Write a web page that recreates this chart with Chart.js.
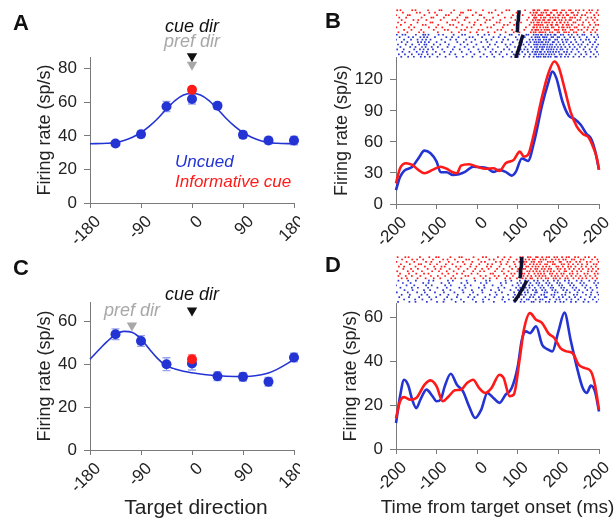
<!DOCTYPE html>
<html>
<head>
<meta charset="utf-8">
<script src="https://cdn.jsdelivr.net/npm/chart.js@4.4.1/dist/chart.umd.min.js"></script>
<style>
  body { margin: 0; background: #fff; }
  #fig { position: relative; width: 616px; height: 523px; overflow: hidden; font-family: 'Liberation Sans', Arial, sans-serif; }
  #fig canvas { position: absolute; }
  .tag { position: absolute; font-weight: bold; font-size: 22px; line-height: 1; color: #111; }
</style>
</head>
<body>
<div id="fig">
  <canvas id="chartA" width="300" height="250" style="left:0;top:0"></canvas>
  <canvas id="chartB" width="316" height="250" style="left:300px;top:0"></canvas>
  <canvas id="chartC" width="300" height="273" style="left:0;top:250px"></canvas>
  <canvas id="chartD" width="316" height="273" style="left:300px;top:250px"></canvas>
  <canvas id="rasterB" width="203" height="49" style="left:396px;top:9px"></canvas>
  <canvas id="rasterD" width="203" height="47" style="left:396px;top:256px"></canvas>
  <div class="tag" style="left:13px;top:12px">A</div>
  <div class="tag" style="left:325px;top:10px">B</div>
  <div class="tag" style="left:13px;top:257px">C</div>
  <div class="tag" style="left:325px;top:254px">D</div>
</div>
<script>
// direction tuning (A, C)
const directions = [-135, -90, -45, 0, 45, 90, 135, 180];
const rateA = [35.5, 41, 57.5, 62, 58, 40.6, 37.2, 37.2];
const errA = [1.5, 2, 3, 3, 2, 2, 2, 2.5];
const cuedRateA = 67.5;
const cuedErrA = 1.5;
const fitDirA = [-180, -150, -135, -120, -105, -90, -75, -60, -45, -30, -15, 0, 15, 30, 45, 60, 75, 90, 105, 120, 135, 150, 180];
const fitA = [35.3, 35.6, 36, 37.2, 39.2, 42, 45.8, 50.5, 56, 61, 64.3, 65.4, 64.3, 61, 56, 50.5, 45.8, 42, 39.2, 37.2, 36, 35.6, 35.3];

const rateC = [54, 50.8, 40, 40.3, 34.4, 34.1, 31.8, 43.1];
const errC = [2.5, 2.5, 3, 3, 2, 2, 2, 2];
const cuedRateC = 42.3;
const cuedErrC = 2;
const fitDirC = [-180, -165, -150, -135, -120, -105, -90, -75, -60, -45, -30, -15, 0, 15, 30, 60, 90, 120, 135, 150, 165, 180];
const fitC = [42.3, 46.5, 50.5, 53.8, 55.3, 54.8, 51.8, 47, 42.5, 39.2, 37.8, 36.7, 36, 35.4, 35, 34.4, 34.2, 35, 35.9, 37.6, 39.8, 42.3];

const dirTicks = [-180, -90, 0, 90, 180];
const dirTickLabels = ['-180', '-90', '0', '90', '180'];

// firing rate over time (B, D)
const timeBBlue = [-200, -190, -180, -160, -145, -130, -115, -100, -90, -75, -60, -45, -30, -10, 10, 25, 40, 55, 70, 85, 95, 110, 125, 140, 160, 175, 185, 195, 210, 225, 240, 255, 270, 280, 290, 300];
const rateBBlue = [13.5, 26, 32, 36, 44, 51.6, 49, 41, 30.6, 30.6, 28, 28.7, 31, 36, 35.5, 34.5, 31, 33, 31, 27.4, 31, 44, 41.6, 59.7, 95.8, 117, 128, 121.6, 99, 85.5, 82, 76.5, 67.4, 63.5, 52, 33];
const timeBRed = [-200, -190, -175, -160, -145, -130, -110, -90, -75, -60, -50, -40, -20, 0, 20, 40, 55, 70, 90, 105, 115, 125, 140, 160, 175, 190, 200, 215, 230, 245, 260, 275, 285, 295, 300];
const rateBRed = [20, 34.5, 39.4, 37.7, 33, 29.7, 33, 36, 34, 30.6, 29.7, 37, 38.4, 36, 34, 34.5, 32, 39.4, 42.6, 50.6, 45.8, 47.4, 68.4, 104, 126, 137.7, 133, 112, 89, 75, 67.7, 64, 55.5, 44, 33];

const timeDBlue = [-200, -190, -180, -170, -160, -150, -140, -125, -110, -100, -90, -80, -65, -50, -35, -20, -5, 10, 25, 40, 55, 70, 85, 100, 110, 120, 130, 145, 160, 175, 185, 200, 215, 230, 245, 260, 270, 280, 290, 300];
const rateDBlue = [11.8, 24, 31.5, 29, 22.4, 18.6, 22.4, 27, 24, 21.7, 22.4, 28.5, 34.2, 29.2, 26.2, 19.4, 14.1, 17.9, 25.5, 23.2, 21, 24.7, 27.7, 37.6, 49.7, 53.5, 52.7, 55.8, 47.4, 45.2, 44.4, 53.5, 62, 49.7, 37.6, 27.7, 25.5, 28.8, 26.2, 17.1];
const timeDRed = [-200, -190, -180, -165, -150, -130, -115, -100, -85, -70, -55, -40, -25, -10, 5, 20, 35, 55, 65, 80, 90, 105, 115, 130, 145, 160, 175, 190, 205, 220, 235, 250, 265, 280, 290, 300];
const rateDRed = [14, 21.7, 23.6, 22.4, 23.2, 29.2, 31.2, 28.5, 21.7, 24, 26.7, 27, 30, 31.5, 27.7, 25.5, 27.7, 33.8, 32.3, 24, 24.7, 41.4, 54.2, 61.8, 58.8, 57.3, 52.7, 50.5, 45.9, 44.4, 43.6, 38.3, 36.8, 35.3, 29.2, 17.9];

const timeTicks = [-200, -100, 0, 100, 200, 300];
const timeTickLabels = ['-200', '-100', '0', '100', '200', '-200'];

// spike rasters: one array of spike times per trial, plus the event time per trial
const rasterBRed = [
  [-197, -189, -160, -152, -121, -93, -88, -57, -22, -16, 14, 45, 72, 79, 118, 138, 141, 149, 153, 166, 169, 174, 187, 191, 195, 209, 214, 226, 230, 243, 251, 262, 276, 283, 297],
  [-183, -149, -141, -118, -104, -64, -40, -35, -3, 29, 36, 61, 97, 131, 139, 145, 147, 158, 163, 170, 181, 183, 197, 205, 207, 219, 232, 236, 248, 270, 279, 294],
  [-200, -171, -166, -130, -99, -77, -70, -43, -11, 6, 10, 52, 88, 112, 136, 143, 151, 155, 160, 172, 176, 178, 189, 200, 203, 212, 221, 224, 239, 246, 258, 266, 288, 299],
  [-192, -175, -137, -113, -108, -82, -49, -28, -24, 17, 39, 68, 84, 101, 127, 140, 142, 146, 157, 164, 168, 180, 186, 193, 199, 210, 216, 229, 234, 241, 255, 272, 281, 290],
  [-186, -157, -145, -125, -90, -61, -54, -31, 1, 23, 31, 57, 94, 123, 137, 144, 150, 154, 162, 165, 175, 179, 190, 192, 202, 208, 218, 227, 231, 247, 253, 268, 285, 296],
  [-195, -178, -147, -115, -110, -74, -46, -19, -6, 20, 48, 55, 81, 108, 133, 139, 148, 152, 159, 167, 171, 177, 185, 196, 204, 206, 215, 223, 237, 242, 261, 275, 289],
  [-188, -163, -134, -127, -96, -67, -59, -37, -8, 9, 41, 66, 75, 91, 129, 141, 146, 151, 156, 161, 173, 182, 184, 194, 198, 211, 220, 225, 233, 250, 259, 278, 292, 298],
  [-199, -168, -155, -119, -101, -86, -51, -25, -14, 25, 34, 63, 99, 120, 138, 140, 147, 155, 163, 169, 174, 184, 188, 201, 209, 213, 222, 228, 240, 245, 264, 273, 287],
  [-180, -162, -138, -107, -80, -72, -39, -30, 3, 13, 50, 59, 86, 116, 135, 143, 145, 150, 158, 166, 172, 177, 191, 195, 200, 211, 217, 230, 235, 249, 257, 271, 284, 295],
  [-194, -172, -143, -132, -97, -63, -45, -17, -1, 27, 43, 70, 90, 104, 132, 139, 144, 153, 157, 162, 168, 179, 185, 198, 202, 214, 219, 226, 238, 244, 263, 280, 291]
];
const rasterBBlue = [
  [-198, -184, -177, -151, -133, -128, -120, -95, -84, -58, -37, -30, 2, 18, 29, 57, 80, 85, 103, 121, 126, 139, 145, 150, 157, 159, 168, 174, 181, 190, 193, 206, 212, 225, 233, 247, 259, 264, 281, 296],
  [-191, -169, -158, -140, -131, -123, -104, -76, -62, -46, -19, -11, 12, 40, 53, 68, 95, 112, 117, 134, 143, 148, 153, 162, 166, 171, 183, 187, 198, 202, 215, 229, 238, 252, 270, 288, 299],
  [-200, -180, -163, -147, -135, -126, -115, -88, -66, -52, -27, -5, 22, 35, 64, 76, 99, 108, 129, 137, 144, 151, 155, 164, 170, 177, 179, 192, 197, 209, 218, 223, 241, 255, 268, 275, 293],
  [-186, -172, -146, -138, -129, -119, -100, -79, -49, -33, -14, 10, 25, 48, 61, 88, 110, 122, 131, 141, 146, 152, 158, 161, 169, 175, 186, 189, 200, 211, 220, 231, 244, 261, 278, 290],
  [-195, -176, -160, -143, -130, -125, -107, -91, -70, -41, -24, -2, 31, 44, 70, 82, 105, 114, 127, 140, 145, 149, 156, 163, 167, 173, 180, 185, 195, 204, 213, 226, 236, 249, 257, 272, 285, 298],
  [-189, -165, -152, -136, -127, -112, -97, -73, -56, -31, -9, 15, 27, 51, 74, 93, 101, 119, 133, 142, 147, 154, 160, 165, 172, 178, 184, 191, 199, 207, 217, 228, 240, 253, 266, 283, 294],
  [-197, -181, -155, -141, -132, -121, -109, -86, -60, -43, -21, 3, 20, 38, 66, 79, 107, 116, 124, 138, 146, 150, 159, 162, 171, 176, 182, 188, 196, 205, 210, 222, 235, 246, 262, 277, 291],
  [-184, -167, -149, -134, -124, -102, -81, -65, -38, -16, 6, 33, 46, 59, 86, 97, 111, 125, 136, 143, 148, 155, 157, 166, 174, 180, 187, 194, 201, 214, 221, 232, 250, 267, 280, 295],
  [-193, -178, -161, -144, -137, -122, -110, -92, -68, -54, -26, -7, 16, 37, 55, 73, 90, 104, 118, 130, 141, 145, 152, 158, 163, 170, 177, 183, 190, 203, 208, 219, 227, 242, 256, 269, 287, 300],
  [-187, -170, -156, -139, -129, -117, -98, -78, -51, -35, -12, 8, 24, 42, 63, 84, 100, 115, 128, 139, 147, 151, 156, 164, 168, 175, 181, 192, 196, 206, 216, 224, 237, 251, 263, 279, 292]
];
const rasterDRed = [
  [-196, -177, -169, -141, -118, -101, -95, -66, -44, -38, -9, 14, 22, 51, 67, 82, 106, 112, 125, 131, 145, 149, 160, 171, 177, 190, 197, 209, 220, 226, 241, 249, 266, 275, 290],
  [-185, -160, -148, -133, -109, -84, -73, -55, -27, -20, 3, 30, 41, 62, 78, 97, 108, 119, 128, 137, 142, 156, 163, 169, 184, 193, 201, 212, 218, 233, 239, 255, 262, 283, 296],
  [-199, -174, -155, -126, -113, -92, -70, -48, -35, -12, 10, 19, 46, 57, 75, 90, 104, 115, 121, 134, 140, 152, 158, 174, 180, 187, 203, 206, 222, 229, 244, 253, 270, 279, 299],
  [-188, -166, -144, -138, -116, -99, -77, -61, -31, -15, 5, 26, 37, 59, 72, 93, 110, 117, 130, 139, 147, 155, 167, 172, 186, 191, 208, 214, 225, 236, 248, 258, 271, 287, 294],
  [-193, -180, -152, -129, -106, -88, -80, -52, -41, -17, -2, 24, 34, 55, 80, 95, 107, 121, 126, 136, 144, 151, 162, 170, 178, 195, 200, 211, 224, 231, 242, 257, 268, 281, 292],
  [-182, -163, -146, -122, -103, -90, -68, -46, -24, -5, 12, 28, 49, 65, 86, 101, 113, 118, 132, 143, 148, 159, 166, 176, 182, 198, 205, 216, 227, 238, 251, 260, 274, 285, 298],
  [-197, -171, -158, -136, -111, -94, -75, -58, -33, -10, 7, 17, 44, 61, 77, 99, 109, 123, 129, 138, 146, 154, 164, 173, 181, 189, 202, 215, 219, 234, 246, 256, 273, 282, 293],
  [-190, -168, -150, -131, -120, -86, -71, -50, -37, -14, 1, 33, 39, 66, 84, 92, 111, 116, 127, 141, 150, 157, 165, 179, 185, 196, 207, 213, 228, 235, 247, 264, 272, 289, 297],
  [-194, -176, -161, -140, -114, -97, -79, -59, -29, -22, 8, 21, 43, 53, 73, 88, 105, 114, 124, 133, 144, 153, 161, 168, 183, 192, 199, 210, 221, 232, 243, 254, 267, 278, 291],
  [-186, -173, -147, -127, -107, -91, -64, -54, -39, -7, 15, 31, 48, 69, 81, 98, 112, 120, 131, 135, 149, 158, 169, 175, 188, 194, 204, 217, 223, 237, 250, 259, 269, 284, 295]
];
const rasterDBlue = [
  [-194, -170, -151, -119, -108, -72, -60, -26, -5, 22, 31, 70, 84, 105, 118, 126, 140, 149, 163, 174, 189, 199, 216, 226, 245, 257, 276, 291],
  [-183, -164, -133, -120, -88, -69, -39, -24, 9, 23, 58, 71, 99, 108, 121, 131, 146, 153, 170, 178, 197, 204, 225, 233, 254, 263, 288, 298],
  [-200, -174, -155, -126, -112, -79, -65, -31, -16, 17, 38, 60, 87, 102, 113, 128, 136, 151, 160, 175, 184, 202, 209, 229, 238, 259, 269, 293],
  [-189, -161, -146, -121, -98, -75, -44, -29, 4, 18, 52, 67, 96, 106, 120, 129, 142, 156, 164, 181, 187, 207, 214, 235, 244, 266, 279, 295],
  [-179, -159, -131, -116, -84, -66, -36, -13, 12, 34, 54, 82, 101, 114, 124, 137, 145, 160, 168, 185, 193, 212, 221, 240, 251, 271, 284],
  [-198, -171, -148, -129, -104, -82, -56, -34, -10, 13, 45, 61, 91, 104, 117, 125, 143, 147, 166, 172, 191, 198, 218, 228, 247, 260, 281, 296],
  [-186, -166, -137, -123, -91, -71, -48, -18, 1, 31, 48, 76, 93, 110, 119, 133, 141, 158, 165, 183, 190, 209, 217, 238, 246, 268, 280, 299],
  [-192, -168, -143, -118, -101, -74, -50, -22, -7, 20, 43, 64, 89, 103, 115, 130, 138, 152, 167, 171, 188, 201, 211, 227, 241, 255, 277, 290],
  [-180, -153, -135, -113, -81, -63, -40, -11, 14, 29, 62, 78, 97, 109, 122, 127, 144, 155, 161, 179, 195, 203, 220, 232, 249, 265, 285, 300],
  [-195, -167, -152, -124, -99, -83, -53, -33, -3, 15, 41, 68, 92, 107, 116, 134, 139, 154, 169, 177, 192, 205, 213, 231, 243, 262, 274, 294]
];
const eventBRed = [103, 103, 102, 102, 101, 100, 100, 99, 99, 98];
const eventBBlue = [113, 111, 109, 107, 106, 104, 102, 100, 98, 96];
const eventDRed = [110, 110, 109, 109, 108, 107, 107, 106, 106, 105];
const eventDBlue = [122, 119, 116, 113, 109, 106, 103, 99, 95, 91];

const FONT = "'Liberation Sans', Arial, sans-serif";
const BLUE = '#2333d4';
const RED = '#ff1a1a';
const AXIS = '#7a7a7a';
const INK = '#222';

Chart.defaults.font.family = FONT;
Chart.defaults.animation = false;

const pts = (xs, ys) => xs.map((x, i) => ({ x, y: ys[i] }));

// vertical error bars with caps, drawn under the markers
const errorBars = {
  id: 'errorBars',
  beforeDatasetsDraw(chart) {
    const { ctx, scales: { x, y } } = chart;
    chart.data.datasets.forEach(ds => {
      if (!ds.errors) return;
      ctx.save();
      ctx.strokeStyle = ds.errorColor;
      ctx.lineWidth = 1.3;
      ds.data.forEach((p, j) => {
        const px = x.getPixelForValue(p.x);
        const top = y.getPixelForValue(p.y + ds.errors[j]);
        const bot = y.getPixelForValue(p.y - ds.errors[j]);
        ctx.beginPath();
        ctx.moveTo(px, top); ctx.lineTo(px, bot);
        ctx.moveTo(px - 4, top); ctx.lineTo(px + 4, top);
        ctx.moveTo(px - 4, bot); ctx.lineTo(px + 4, bot);
        ctx.stroke();
      });
      ctx.restore();
    });
  }
};

// x tick labels turned 45 degrees
function slantTicks(values, labels) {
  return {
    id: 'slantTicks',
    afterDraw(chart) {
      const { ctx } = chart;
      const sx = chart.scales.x;
      ctx.save();
      ctx.font = '17px ' + FONT;
      ctx.fillStyle = INK;
      ctx.textAlign = 'right';
      ctx.textBaseline = 'middle';
      values.forEach((v, i) => {
        ctx.save();
        ctx.translate(sx.getPixelForValue(v) + 8, sx.top + 16);
        ctx.rotate(-Math.PI / 4);
        ctx.fillText(labels[i], 0, 0);
        ctx.restore();
      });
      ctx.restore();
    }
  };
}

// x axis title under the slanted labels (not squeezed to the plot width)
function bottomTitle(text, size, shift) {
  return {
    id: 'bottomTitle',
    afterDraw(chart) {
      if (!text) return;
      const { ctx, chartArea } = chart;
      ctx.save();
      ctx.font = size + 'px ' + FONT;
      ctx.fillStyle = INK;
      ctx.textAlign = 'center';
      ctx.textBaseline = 'middle';
      ctx.fillText(text, (chartArea.left + chartArea.right) / 2 + shift, chart.height - 15);
      ctx.restore();
    }
  };
}

// free text placed in data coordinates
function notes(items) {
  return {
    id: 'notes',
    afterDraw(chart) {
      const { ctx, scales: { x, y } } = chart;
      ctx.save();
      items.forEach(n => {
        ctx.font = n.font;
        ctx.fillStyle = n.color;
        ctx.textAlign = n.align || 'center';
        ctx.textBaseline = 'alphabetic';
        ctx.fillText(n.text, x.getPixelForValue(n.x), y.getPixelForValue(n.y));
      });
      ctx.restore();
    }
  };
}

function yAxis(max, step, width, titlePad) {
  return {
    min: 0, max,
    afterFit(scale) { scale.width = width; },
    border: { display: true, color: AXIS, width: 1 },
    grid: { drawOnChartArea: false, drawTicks: true, tickLength: 6, color: AXIS },
    ticks: { stepSize: step, includeBounds: false, padding: 7, color: INK, font: { size: 17 } },
    title: { display: true, text: 'Firing rate (sp/s)', color: INK, font: { size: 18 }, padding: { top: titlePad, bottom: 0 } }
  };
}

function xAxis(min, max, step, height) {
  return {
    type: 'linear', min, max,
    afterFit(scale) { scale.height = height; },
    border: { display: true, color: AXIS, width: 1 },
    grid: { drawOnChartArea: false, drawTicks: true, tickLength: 5, color: AXIS },
    ticks: { stepSize: step, display: false }
  };
}

function baseOptions(scales, padTop, padRight) {
  return {
    responsive: false,
    layout: { padding: { top: padTop, right: padRight, left: 0, bottom: 0 }, autoPadding: false },
    plugins: { legend: { display: false }, tooltip: { enabled: false } },
    scales
  };
}

function marker(x, y, color) {
  return {
    type: 'scatter', data: [{ x, y }], order: 0, clip: false,
    pointStyle: 'triangle', rotation: 180, pointRadius: 6,
    backgroundColor: color, borderColor: color, borderWidth: 0
  };
}

function tuningChart(id, o) {
  new Chart(document.getElementById(id), {
    type: 'line',
    data: {
      datasets: [
        {
          type: 'scatter', data: [{ x: 0, y: o.cued }], errors: [o.cuedErr], errorColor: 'rgba(255,90,90,0.7)',
          order: 0, pointRadius: 5, backgroundColor: RED, borderWidth: 0
        },
        {
          type: 'scatter', data: pts(directions, o.rates), errors: o.errs, errorColor: 'rgba(95,115,225,0.65)',
          order: 1, pointRadius: 5, backgroundColor: BLUE, borderWidth: 0, clip: false
        },
        {
          data: pts(o.fitDir, o.fit), order: 2, borderColor: BLUE, borderWidth: 1.6,
          pointRadius: 0, cubicInterpolationMode: 'monotone', clip: false
        },
        ...o.markers
      ]
    },
    options: baseOptions({
      x: xAxis(-180, 180, 90, o.xHeight),
      y: yAxis(o.yMax, 20, 90, 34)
    }, o.padTop, 6),
    plugins: [errorBars, slantTicks(dirTicks, dirTickLabels), notes(o.notes), bottomTitle(o.xTitle, 21, 4)]
  });
}

function psthChart(id, o) {
  const line = (data, color, order) => ({
    data, borderColor: color, borderWidth: 2.6, pointRadius: 0,
    cubicInterpolationMode: 'monotone', order, clip: false
  });
  new Chart(document.getElementById(id), {
    type: 'line',
    data: { datasets: [line(o.red, RED, 0), line(o.blue, BLUE, 1)] },
    options: baseOptions({
      x: xAxis(-200, 300, 100, o.xHeight),
      y: yAxis(o.yMax, o.yStep, 96, o.titlePad)
    }, o.padTop, 17),
    plugins: [slantTicks(timeTicks, timeTickLabels), bottomTitle(o.xTitle, 19, 0)]
  });
}

function rasterChart(id, red, blue, evRed, evBlue) {
  const spikes = (trials, offset) => trials.flatMap((ts, i) => ts.map(t => ({ x: t, y: i + offset })));
  const dots = (data, color) => ({
    type: 'scatter', data, pointStyle: 'rect', pointRadius: 1.2,
    backgroundColor: color, borderWidth: 0, order: 2
  });
  const event = (ev, offset) => ({
    type: 'line', data: ev.map((t, i) => ({ x: t, y: i + offset })),
    borderColor: '#0e0e30', borderWidth: 3.5, pointRadius: 0, order: 0, clip: false
  });
  new Chart(document.getElementById(id), {
    type: 'scatter',
    data: {
      datasets: [
        event(evRed, 0), event(evBlue, 10),
        dots(spikes(red, 0), RED), dots(spikes(blue, 10), '#2a36d0')
      ]
    },
    options: {
      responsive: false,
      layout: { padding: 0, autoPadding: false },
      plugins: { legend: { display: false }, tooltip: { enabled: false } },
      scales: {
        x: { type: 'linear', display: false, min: -200, max: 300 },
        y: { display: false, min: -0.5, max: 19.5, reverse: true }
      }
    }
  });
}

const italic = size => 'italic ' + size + 'px ' + FONT;

tuningChart('chartA', {
  rates: rateA, errs: errA, cued: cuedRateA, cuedErr: cuedErrA,
  fitDir: fitDirA, fit: fitA, yMax: 87, padTop: 57, xHeight: 47, xTitle: null,
  markers: [marker(0, 82.4, '#a8a8a8'), marker(0, 87.5, '#111')],
  notes: [
    { text: 'cue dir', x: 0, y: 102, color: '#111', font: italic(18) },
    { text: 'pref dir', x: 0, y: 93, color: '#a8a8a8', font: italic(18) },
    { text: 'Uncued', x: -30, y: 21.5, color: BLUE, font: italic(17), align: 'left' },
    { text: 'Informative cue', x: -30, y: 9.5, color: RED, font: italic(17), align: 'left' }
  ]
});

tuningChart('chartC', {
  rates: rateC, errs: errC, cued: cuedRateC, cuedErr: cuedErrC,
  fitDir: fitDirC, fit: fitC, yMax: 69, padTop: 52, xHeight: 73, xTitle: 'Target direction',
  markers: [marker(-106, 58, '#a8a8a8'), marker(0, 65, '#111')],
  notes: [
    { text: 'cue dir', x: 0, y: 69.8, color: '#111', font: italic(18) },
    { text: 'pref dir', x: -106, y: 62.6, color: '#a8a8a8', font: italic(18) }
  ]
});

psthChart('chartB', {
  blue: pts(timeBBlue, rateBBlue), red: pts(timeBRed, rateBRed),
  yMax: 142, yStep: 30, padTop: 57, xHeight: 46, xTitle: null, titlePad: 31
});

psthChart('chartD', {
  blue: pts(timeDBlue, rateDBlue), red: pts(timeDRed, rateDRed),
  yMax: 66.4, yStep: 20, padTop: 53, xHeight: 74, xTitle: 'Time from target onset (ms)', titlePad: 40
});

rasterChart('rasterB', rasterBRed, rasterBBlue, eventBRed, eventBBlue);
rasterChart('rasterD', rasterDRed, rasterDBlue, eventDRed, eventDBlue);
</script>
</body>
</html>
